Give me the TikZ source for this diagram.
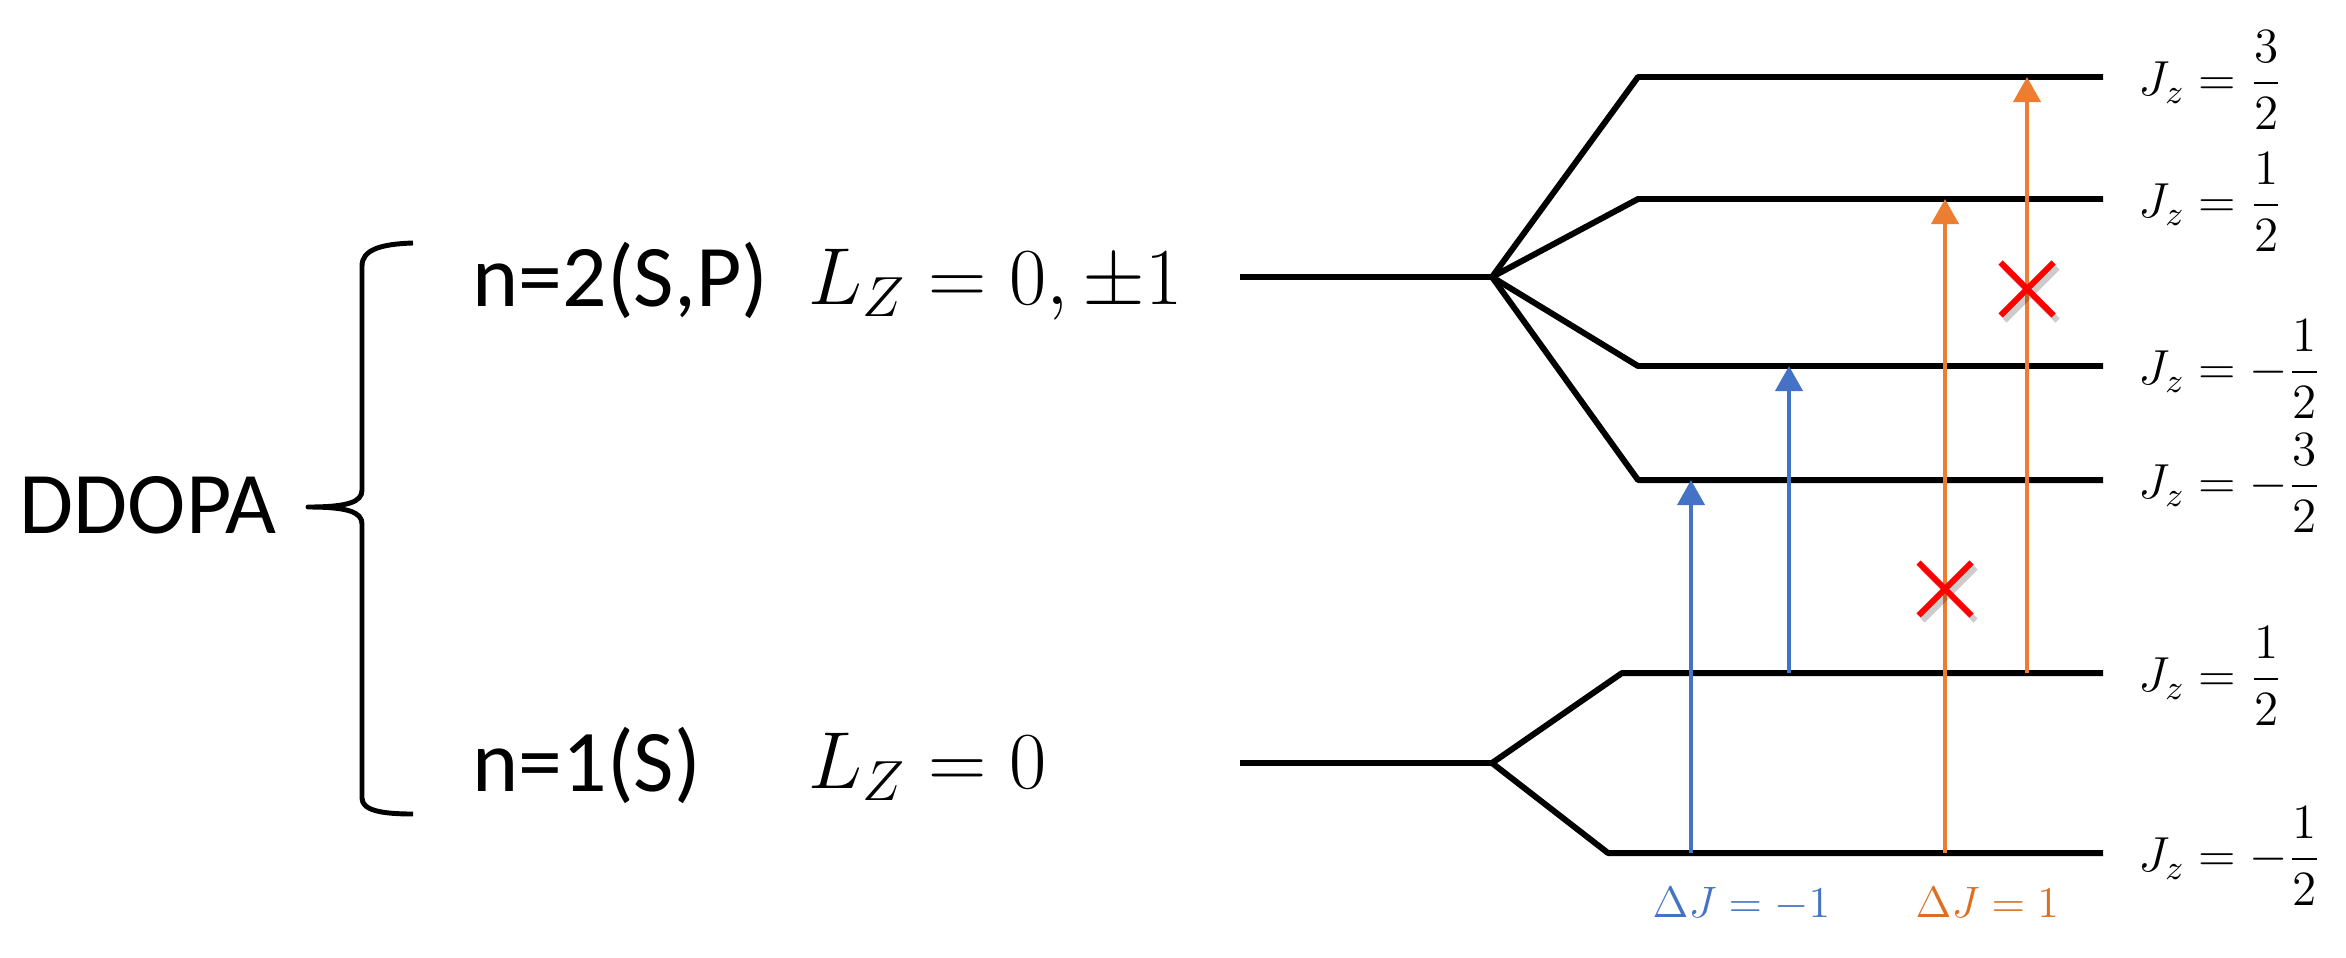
\documentclass[tikz,border=0pt]{standalone}
\usepackage{fix-cm}
\usepackage{amsmath}
\usepackage{fontspec}
\setmainfont{Carlito}
\usepackage{tikz}
\usetikzlibrary{arrows.meta,shapes.misc}
\tikzset{>={Triangle[width=0.27cm,length=0.25cm]}}
\definecolor{ArrBlue}{HTML}{4472C4}
\definecolor{ArrOrange}{HTML}{ED7D31}
\definecolor{TextOrange}{HTML}{DC6F22}
\definecolor{CrossRed}{HTML}{FF0000}
\tikzset{
  level/.style={line width=1.7pt,line join=round},
  trans/.style={->,line width=1.15pt},
  big/.style={inner sep=0pt,anchor=base west,font=\fontsize{25}{29}\selectfont},
  bigmath/.style={inner sep=0pt,anchor=base west,font=\fontsize{23}{28}\selectfont},
  jlabel/.style={inner sep=0pt,anchor=west,font=\fontsize{14}{17}\selectfont},
  dj/.style={inner sep=0pt,anchor=base west,font=\fontsize{12.5}{15}\selectfont},
  nope/.style={cross out,draw=CrossRed,line width=1.7pt,minimum size=0.47cm,inner sep=0pt}
}

\begin{document}
\begin{tikzpicture}[x=0.01cm,y=-0.01cm]
    \useasboundingbox (0,0) rectangle (2346,957);
    % left part
    \node[big,anchor=west] (ddopa) at (19,505) {DDOPA};
    \coordinate (bt) at (413,243);
    \coordinate (btip) at (308,507);
    \coordinate (bb) at (413,814);
    \draw[line width=1.4pt,line join=round] (bt) .. controls (380,244) and (362,250) .. (362,266) -- (362,490)
        .. controls (362,502) and (348,507) .. (btip) .. controls (348,507) and (362,512) .. (362,524)
        -- (362,798) .. controls (362,810) and (380,814) .. (bb);
    \node[big] (n2) at (472,306) {n=2(S,P)};
    \node[bigmath] (lz2) at (808,304) {$L_Z=0,\pm1$};
    \node[big] (n1) at (472,791) {n=1(S)};
    \node[bigmath] (lz1) at (808,788) {$L_Z=0$};
    % levels
    \coordinate (up) at (1240,277);
    \coordinate (upfork) at (1492,277);
    \coordinate (lo) at (1240,763);
    \coordinate (lofork) at (1492,763);
    \draw[level] (up) -- (upfork);
    \draw[level] (lo) -- (lofork);
    \foreach \y/\nm/\lab in {77/a/\frac32, 199/b/\frac12, 366/c/-\frac12, 480/d/-\frac32}{
        \draw[level] (upfork) -- (1638,\y) -- (2103,\y) coordinate (\nm);
        \node[jlabel] (j\nm) at (2138,{\y+3}) {$\displaystyle J_z=\lab$};
    }
    \foreach \y/\x/\nm/\lab in {673/1622/e/\frac12, 853/1608/f/-\frac12}{
        \draw[level] (lofork) -- (\x,\y) -- (2103,\y) coordinate (\nm);
        \node[jlabel] (j\nm) at (2138,{\y+3}) {$\displaystyle J_z=\lab$};
    }
    % transitions
    \coordinate (b1) at (1691,853);
    \coordinate (b2) at (1789,673);
    \coordinate (o1) at (1945,853);
    \coordinate (o2) at (2027,673);
    \draw[trans,ArrBlue] (b1) -- (b1 |- d);
    \draw[trans,ArrBlue] (b2) -- (b2 |- c);
    \draw[trans,ArrOrange] (o1) -- (o1 |- b);
    \draw[trans,ArrOrange] (o2) -- (o2 |- a);
    \node[nope,draw=black,opacity=0.2] (x1s) at (1949,594) {};
    \node[nope,draw=black,opacity=0.2] (x2s) at (2031,294) {};
    \node[nope] (x1) at (1945,589) {};
    \node[nope] (x2) at (2027,289) {};
    \node[dj,text=ArrBlue] (djm) at (1652,917) {$\Delta J=-1$};
    \node[dj,text=TextOrange] (djp) at (1915,917) {$\Delta J=1$};
\end{tikzpicture}
\end{document}
